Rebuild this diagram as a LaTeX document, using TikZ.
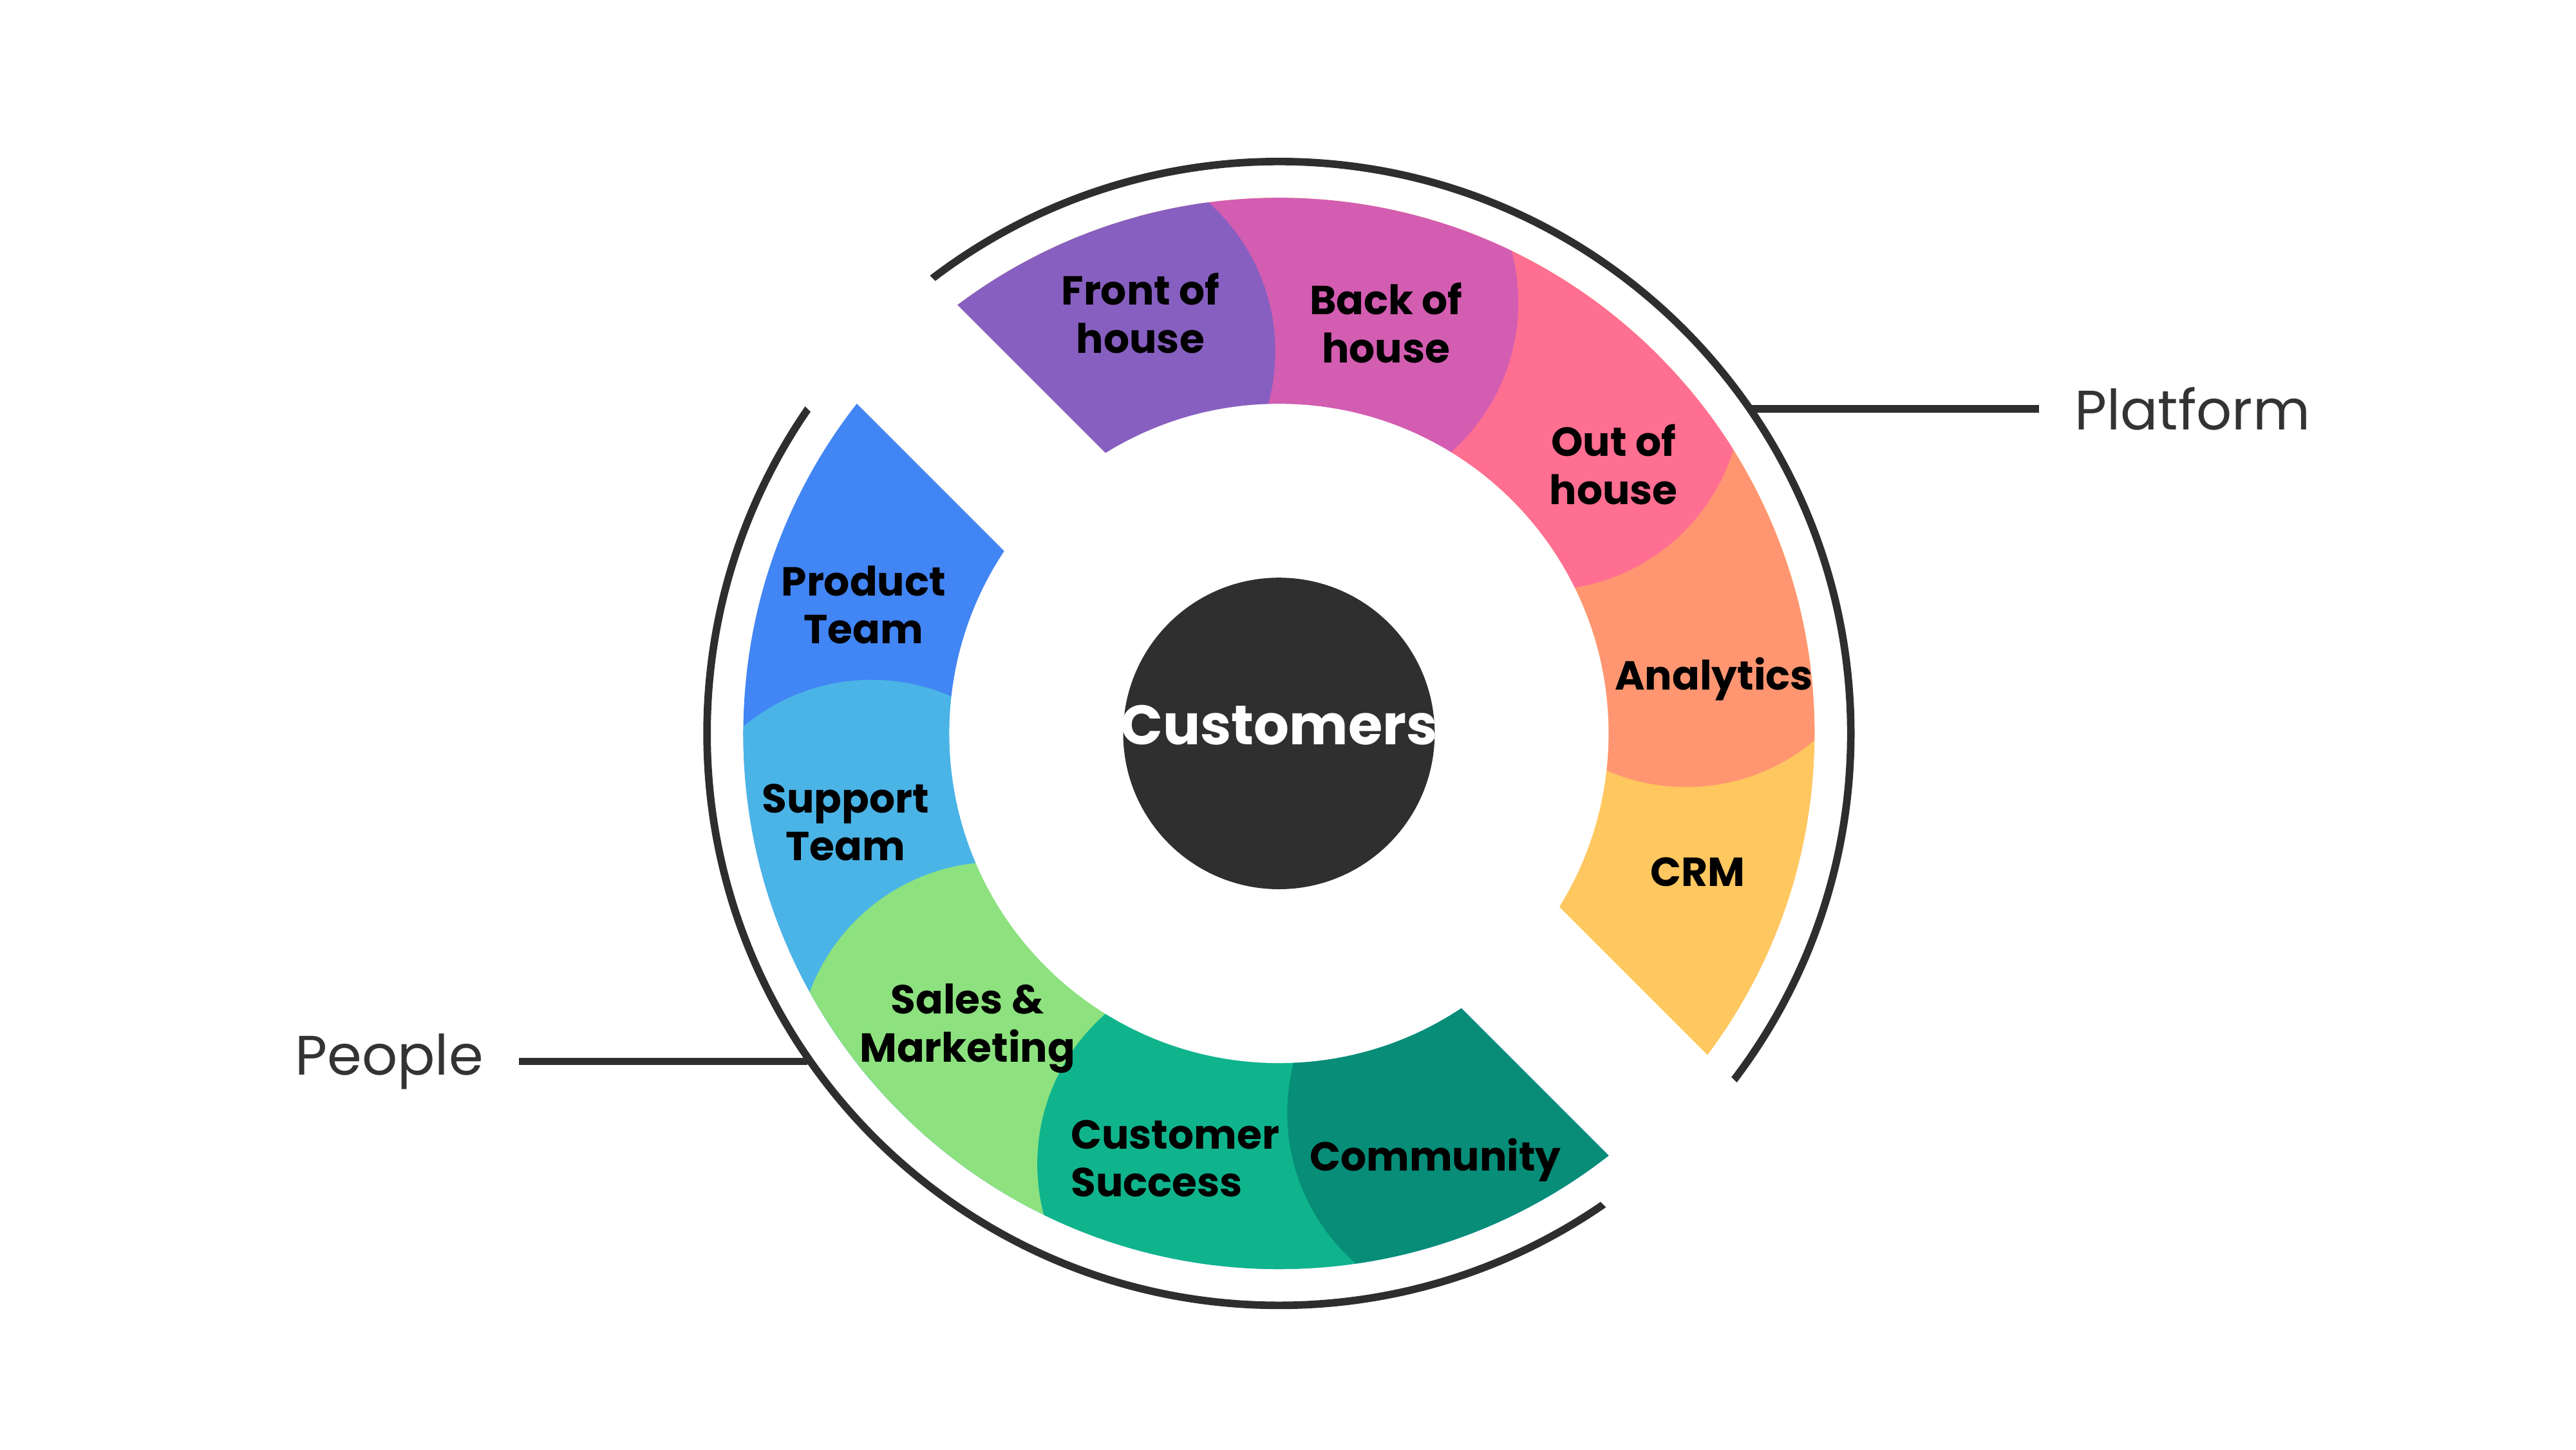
\documentclass[tikz,border=0pt]{standalone}
\usepackage{fontspec}
\setmainfont{Poppins}
\begin{document}
\begin{tikzpicture}[
  lab/.style={font=\fontsize{7}{8.3}\selectfont\bfseries, align=center, text=black, inner sep=0},
  side/.style={font=\fontsize{9.6}{11}\selectfont, text=black!80, inner ysep=0, inner xsep=0.21cm},
  ringline/.style={line width=1.3pt, draw=black!82}
]
\definecolor{cPurple}{HTML}{875FC0}
\definecolor{cMagenta}{HTML}{D35DB1}
\definecolor{cPink}{HTML}{FF6F91}
\definecolor{cOrange}{HTML}{FF9671}
\definecolor{cYellow}{HTML}{FFC75F}
\definecolor{cBlue}{HTML}{4285F4}
\definecolor{cLBlue}{HTML}{4BB4E6}
\definecolor{cGreen}{HTML}{8DE27F}
\definecolor{cTeal}{HTML}{10B48C}
\definecolor{cDTeal}{HTML}{078D78}
\definecolor{cDark}{HTML}{2F2F2F}
\useasboundingbox (0,0) rectangle (15.63,8.794);
\begin{scope}[shift={(7.76,4.344)}]
  % platform segments
  \begin{scope}
    \clip (-5,5.65) -- (5.65,-5) -- (10,10) -- cycle;
    \clip (0,0) circle (3.25);
    \fill[cYellow] (0,0) circle (3.3);
    \fill[cOrange] (19.7:2.625) circle (1.21);
    \fill[cPink] (52.4:2.625) circle (1.21);
    \fill[cMagenta] (84.7:2.625) circle (1.21);
    \fill[cPurple] (118:2.625) circle (1.21);
  \end{scope}
  % people segments
  \begin{scope}
    \clip (5,-5.56) -- (-5.56,5) -- (-10,-10) -- cycle;
    \clip (0,0) circle (3.25);
    \fill[cBlue] (0,0) circle (3.3);
    \fill[cLBlue] (199.7:2.625) circle (1.21);
    \fill[cGreen] (229.3:2.625) circle (1.21);
    \fill[cTeal] (264.4:2.625) circle (1.21);
    \fill[cDTeal] (298.7:2.625) circle (1.21);
  \end{scope}
  \fill[white] (0,0) circle (2.0);
  % outer arcs
  \begin{scope}
    \clip (-5,5.66) -- (5.66,-5) -- (10,10) -- cycle;
    \draw[ringline] (0,0) circle (3.47);
  \end{scope}
  \begin{scope}
    \clip (5,-5.89) -- (-5.89,5) -- (-10,-10) -- cycle;
    \draw[ringline] (0,0) circle (3.47);
  \end{scope}
  % center
  \node[circle, fill=cDark, minimum size=1.89cm, inner sep=0] (cust) at (0,0) {};
  \node[font=\fontsize{9.6}{11}\selectfont\bfseries, text=white] (custl) at (0,0.05) {Customers};
  % labels
  \node[lab] (foh) at (-0.84,2.55) {Front of\\house};
  \node[lab] (boh) at (0.65,2.49) {Back of\\house};
  \node[lab] (ooh) at (2.03,1.63) {Out of\\house};
  \node[lab] (ana) at (2.64,0.33) {Analytics};
  \node[lab] (crm) at (2.54,-0.84) {CRM};
  \node[lab] (prod) at (-2.52,0.78) {Product\\Team};
  \node[lab] (supp) at (-2.63,-0.54) {Support\\Team};
  \node[lab] (sales) at (-1.89,-1.79) {Sales \&\\Marketing};
  \node[lab, align=left] (cs) at (-0.63,-2.58) {Customer\\Success};
  \node[lab] (comm) at (0.95,-2.59) {Community};
  % side labels
  \coordinate (pa) at (2.87,1.97);
  \coordinate (pe) at (-2.86,-1.99);
  \node[side, anchor=west] (plat) at (4.61,1.97) {Platform};
  \node[side, anchor=east] (peop) at (-4.61,-1.99) {People};
  \draw[ringline] (pa) -- (plat.west);
  \draw[ringline] (pe) -- (peop.east);
\end{scope}
\end{tikzpicture}
\end{document}
